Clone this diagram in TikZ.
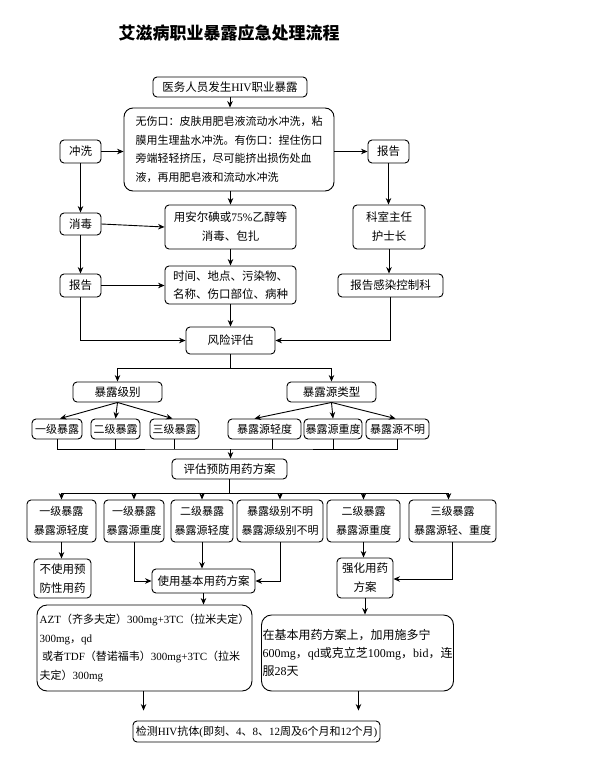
\documentclass[tikz,border=0pt]{standalone}
\usepackage{fontspec}
\setmainfont{Noto Sans CJK SC}
\newfontfamily\rom{Liberation Serif}
\usetikzlibrary{arrows.meta}
\begin{document}
\begin{tikzpicture}[x=1pt,y=-1pt,
 box/.style={draw, line width=0.9pt, rounded corners=4pt, fill=white, inner sep=1pt, align=center, font=\fontsize{11.5}{15}\selectfont},
 sbox/.style={box, font=\fontsize{11}{15}\selectfont},
 tbox/.style={box, font=\fontsize{11}{19}\selectfont, minimum height=42},
 arr/.style={line width=0.9pt, -{Stealth[length=6.5pt,width=5.5pt]}},
 ln/.style={line width=0.9pt}]
\useasboundingbox[fill=white] (0,0) rectangle (592,763);

\node[font=\fontsize{17}{20}\selectfont\bfseries] (title) at (229,33) {艾滋病职业暴露应急处理流程};

\node[box, minimum width=154, minimum height=20] (n0) at (230,87) {医务人员发生{\rom HIV}职业暴露};
\node[box, rounded corners=9pt, minimum width=210, minimum height=83, align=left, font=\fontsize{11}{18.7}\selectfont] (big) at (229,149.5) {无伤口：皮肤用肥皂液流动水冲洗，粘\\膜用生理盐水冲洗。有伤口：捏住伤口\\旁端轻轻挤压，尽可能挤出损伤处血\\液，再用肥皂液和流动水冲洗};
\node[box, minimum width=41, minimum height=23] (chong) at (80.5,151.5) {冲洗};
\node[box, minimum width=41, minimum height=23] (bg1) at (388.5,151.5) {报告};
\node[box, minimum width=41, minimum height=22] (xiao) at (80.5,224) {消毒};
\node[box, minimum width=131, minimum height=44, font=\fontsize{11.5}{19}\selectfont] (aner) at (230.5,227) {用安尔碘或{\rom 75\%}乙醇等\\消毒、包扎};
\node[box, minimum width=72, minimum height=44, font=\fontsize{11.5}{19}\selectfont] (kszr) at (389,227) {科室主任\\护士长};
\node[box, minimum width=41, minimum height=23] (bg2) at (80.5,285.5) {报告};
\node[box, minimum width=131, minimum height=38, font=\fontsize{11.5}{18}\selectfont] (sj) at (230.5,285) {时间、地点、污染物、\\名称、伤口部位、病种};
\node[box, minimum width=105, minimum height=23] (bggk) at (390.5,285.5) {报告感染控制科};
\node[box, minimum width=89, minimum height=27] (fx) at (230.5,340.5) {风险评估};

\node[box, minimum width=89, minimum height=20] (jb) at (117.5,392) {暴露级别};
\node[box, minimum width=89, minimum height=20] (ly) at (331.5,392) {暴露源类型};

\node[sbox, minimum width=50, minimum height=20] (l1) at (57,429) {一级暴露};
\node[sbox, minimum width=49, minimum height=20] (l2) at (115.5,429) {二级暴露};
\node[sbox, minimum width=49, minimum height=20] (l3) at (174.5,429) {三级暴露};
\node[sbox, minimum width=73, minimum height=20] (s1) at (264.5,429) {暴露源轻度};
\node[sbox, minimum width=58, minimum height=20] (s2) at (333,429) {暴露源重度};
\node[sbox, minimum width=63, minimum height=20] (s3) at (397.5,429) {暴露源不明};

\node[box, minimum width=115, minimum height=20] (pg) at (229.5,469) {评估预防用药方案};

\node[tbox, minimum width=69] (c1) at (61.5,521) {一级暴露\\暴露源轻度};
\node[tbox, minimum width=60] (c2) at (134,521) {一级暴露\\暴露源重度};
\node[tbox, minimum width=62] (c3) at (202,521) {二级暴露\\暴露源轻度};
\node[tbox, minimum width=86] (c4) at (280,521) {暴露级别不明\\暴露源级别不明};
\node[tbox, minimum width=73] (c5) at (363.5,521) {二级暴露\\暴露源重度};
\node[tbox, minimum width=87] (c6) at (452.5,521) {三级暴露\\暴露源轻、重度};

\node[box, minimum width=57, minimum height=39, font=\fontsize{11.5}{19}\selectfont] (nouse) at (62.5,578.5) {不使用预\\防性用药};
\node[box, minimum width=103, minimum height=24] (use) at (203.5,581) {使用基本用药方案};
\node[box, minimum width=56, minimum height=40, font=\fontsize{11.5}{19}\selectfont] (qh) at (365,578) {强化用药\\方案};

\node[box, rounded corners=10pt, minimum width=215, minimum height=86, align=left, font=\fontsize{11}{18.5}\selectfont] (azt) at (144.5,648) {{\rom AZT}（齐多夫定）{\rom 300mg+3TC}（拉米夫定）\\{\rom 300mg}，{\rom qd}\\\ 或者{\rom TDF}（替诺福韦）{\rom 300mg+3TC}（拉米\\夫定）{\rom 300mg}};
\node[box, rounded corners=10pt, minimum width=179, minimum height=76, align=left, font=\fontsize{12}{18}\selectfont] (rt) at (357.5,653) {在基本用药方案上，加用施多宁\\{\rom 600mg}，{\rom qd}或克立芝{\rom 100mg}，{\rom bid}，连\\服{\rom 28}天};

\node[box, minimum width=247, minimum height=21, font=\fontsize{11}{14}\selectfont] (fin) at (256.5,731.5) {检测{\rom HIV}抗体{\rom (}即刻、{\rom 4}、{\rom 8}、{\rom 12}周及{\rom 6}个月和{\rom 12}个月{\rom )}};

% connectors
\draw[arr] (n0.south) -- (n0.south |- big.north);
\draw[arr] (chong.east) -- (chong.east -| big.west);
\draw[arr] (big.east |- bg1.west) -- (bg1.west);
\draw[arr] (chong.south) -- (xiao.north);
\draw[arr] (big.south -| aner.north) -- (aner.north);
\draw[arr] (bg1.south) -- (bg1.south |- kszr.north);
\draw[arr] (xiao.east) -- (aner.west);
\draw[arr] (xiao.south) -- (bg2.north);
\draw[arr] (aner.south) -- (sj.north);
\draw[arr] (bg2.east) -- (bg2.east -| sj.west);
\draw[arr] (kszr.south) -- (kszr.south |- bggk.north);
\draw[arr] (sj.south) -- (sj.south |- fx.north);
\draw[arr] (bg2.south) |- (fx.west);
\draw[arr] (bggk.south) |- (fx.east);

\coordinate (m0) at (230.5,368);
\draw[ln] (fx.south) -- (m0);
\draw[arr] (m0) -| (jb.north);
\draw[arr] (m0) -| (ly.north);

\draw[arr] (jb.south) -- ([xshift=3]l1.north);
\draw[arr] (jb.south) -- (l2.north);
\draw[arr] (jb.south) -- ([xshift=-2]l3.north);
\draw[arr] (ly.south) -- ([xshift=-10]s1.north);
\draw[arr] (ly.south) -- (s2.north);
\draw[arr] (ly.south) -- ([xshift=-2]s3.north);

\coordinate (m1) at (230.5,449);
\draw[ln] (l1.south) |- (m1) -| (s3.south);
\draw[ln] (l2.south) -- (l2.south |- m1);
\draw[ln] (l3.south) -- (l3.south |- m1);
\draw[ln] ([xshift=8]s1.south) -- ([xshift=8]s1.south |- m1);
\draw[ln] (s2.south) -- (s2.south |- m1);
\draw[arr] (m1) -- (m1 |- pg.north);

\coordinate (m2) at (229.5,493);
\draw[ln] (pg.south) -- (m2);
\draw[arr] (m2) -| (c1.north);
\draw[arr] (m2) -| (c2.north);
\draw[arr] (m2) -| (c3.north);
\draw[arr] (m2) -| (c4.north);
\draw[arr] (m2) -| (c5.north);
\draw[arr] (m2) -| ([xshift=-4]c6.north);

\draw[arr] (c1.south) -- (c1.south |- nouse.north);
\draw[arr] (c2.south) |- (use.west);
\draw[arr] (c3.south) -- (c3.south |- use.north);
\draw[arr] (c4.south) |- (use.east);
\draw[arr] (c5.south) -- (c5.south |- qh.north);
\draw[arr] (c6.south) |- ([yshift=-1]qh.east);
\draw[arr] (use.south) -- (use.south |- azt.north);
\draw[arr] (qh.south) -- (qh.south |- rt.north);

\draw[arr, shorten >=10pt] ([xshift=11]fin.north west |- azt.south) -- ([xshift=11]fin.north west);
\draw[arr, shorten >=10pt] ([xshift=-22]fin.north east |- rt.south) -- ([xshift=-22]fin.north east);
\end{tikzpicture}
\end{document}
